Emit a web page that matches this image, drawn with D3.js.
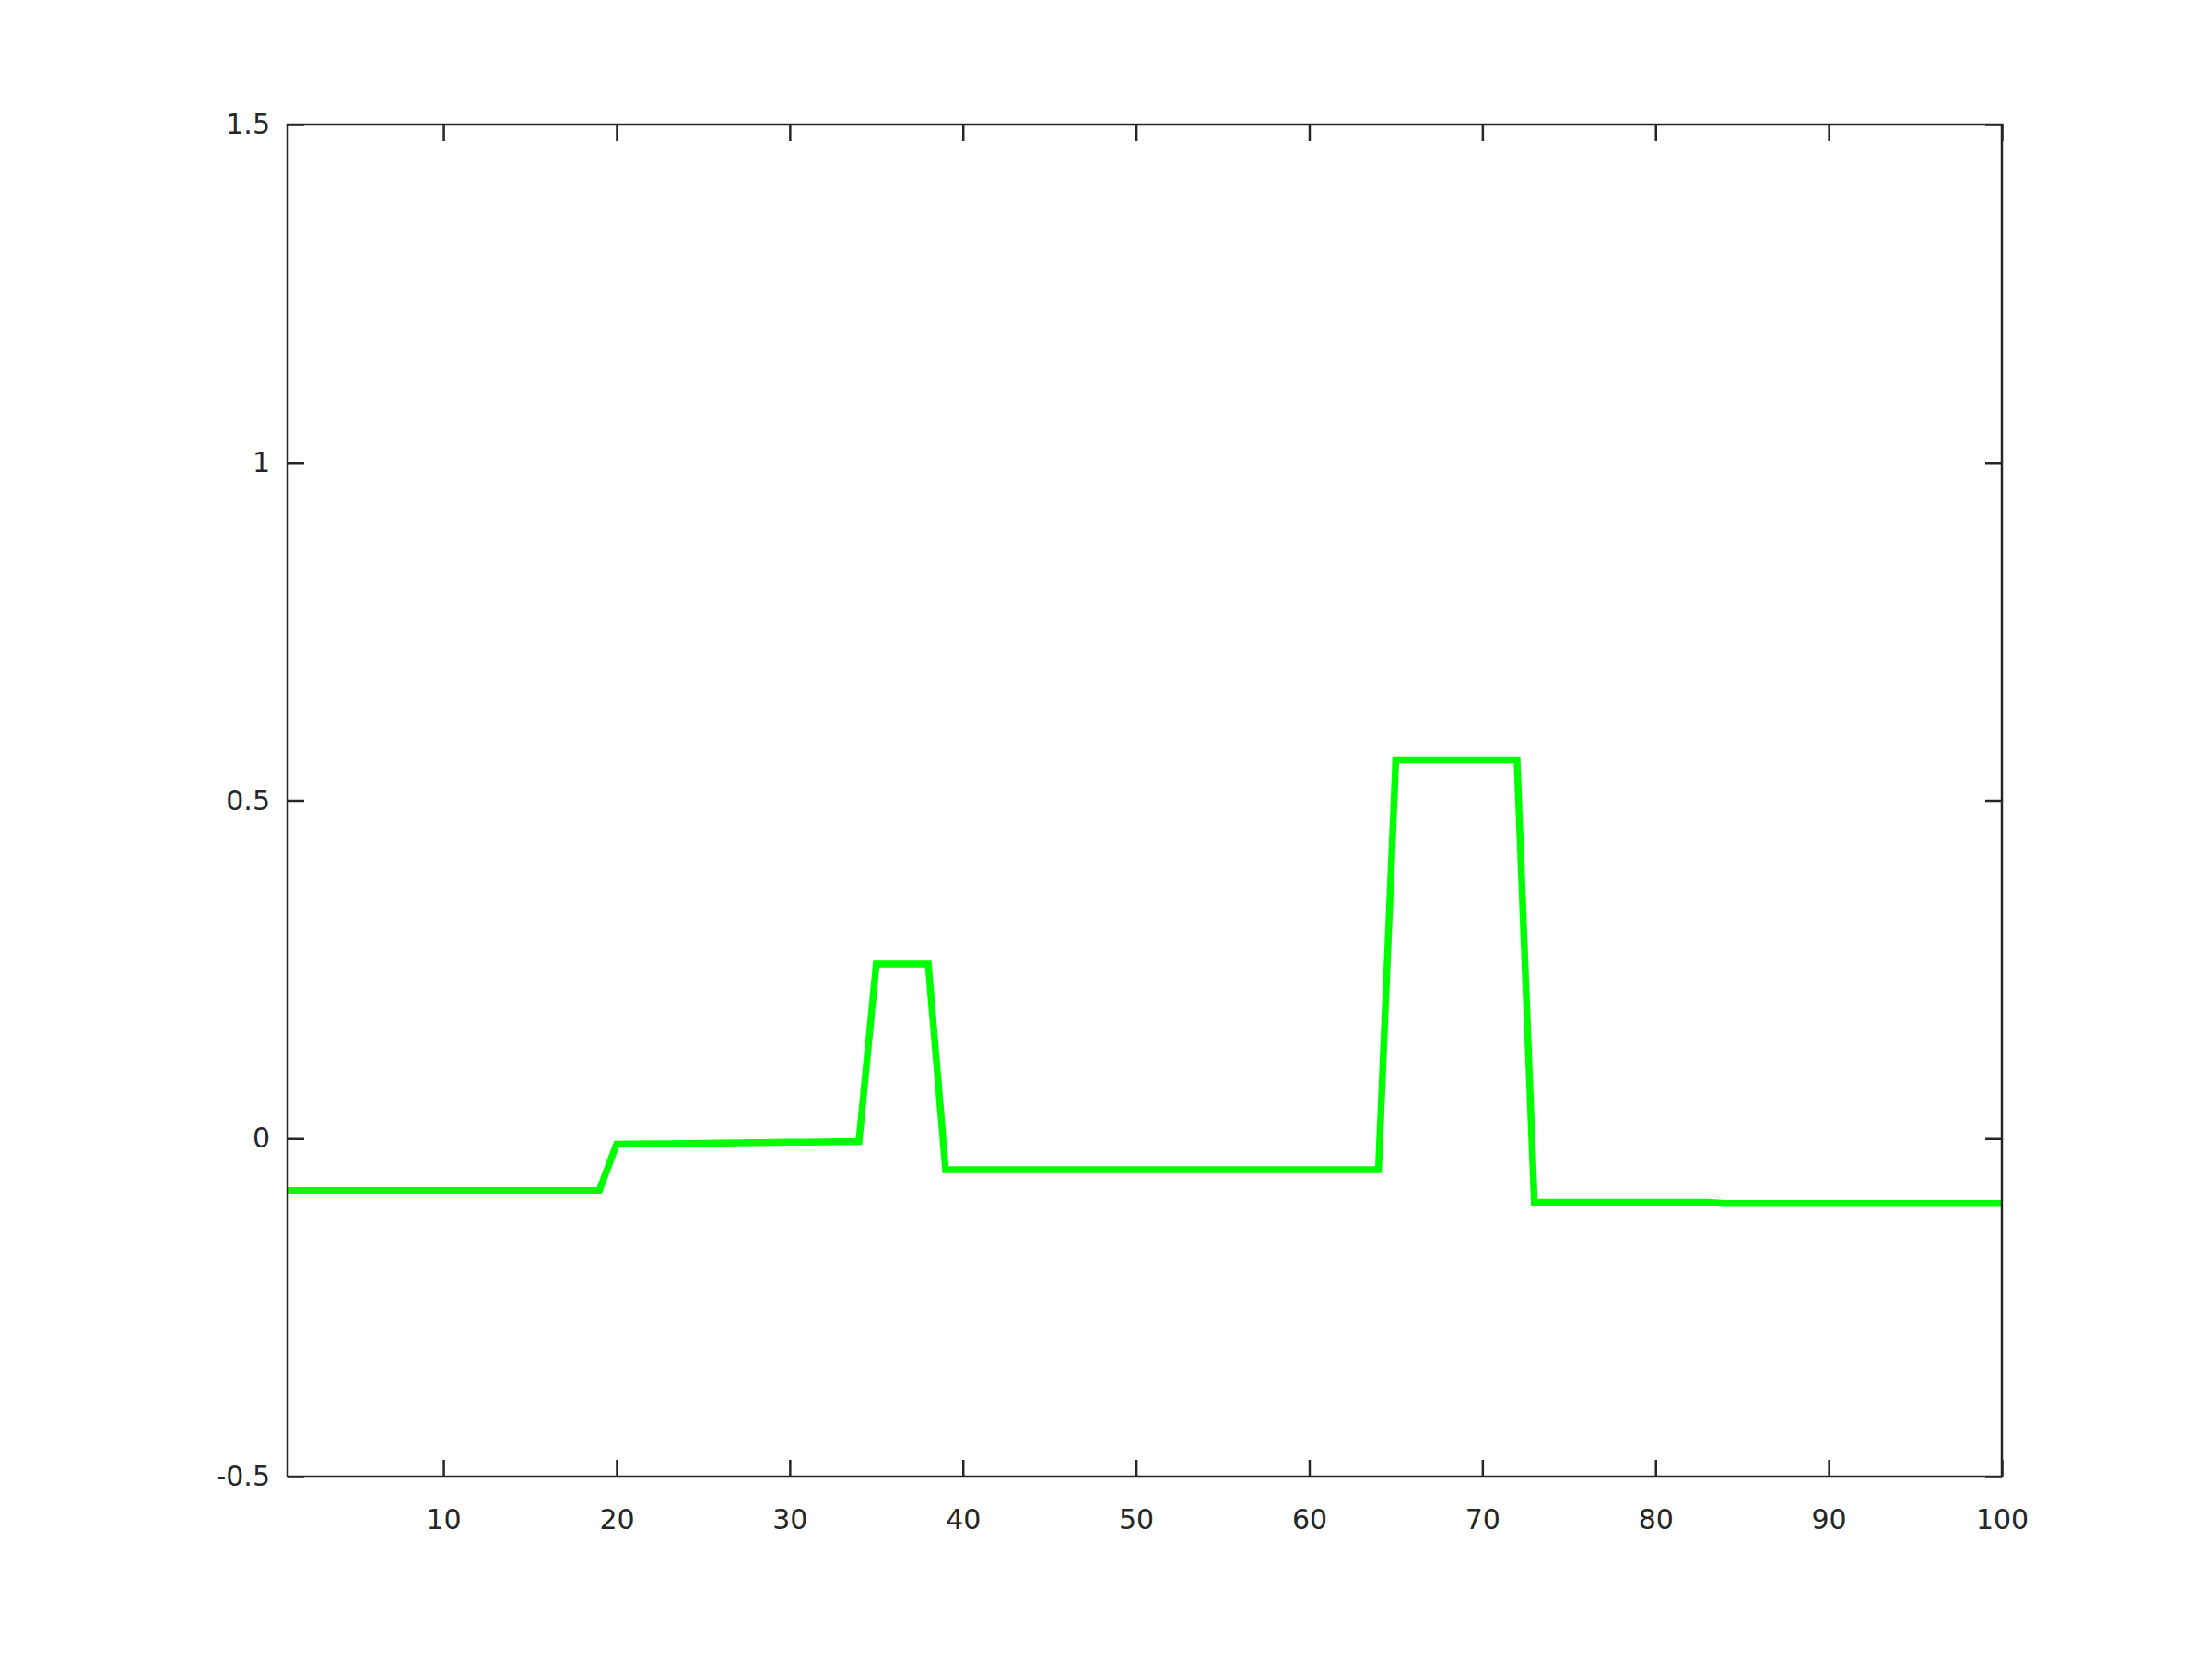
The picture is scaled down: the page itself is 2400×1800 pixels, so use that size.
<!DOCTYPE html>
<html>
<head>
<meta charset="utf-8">
<script src="https://cdn.jsdelivr.net/npm/d3@7"></script>
<style>
  body { margin: 0; background: #fff; }
  .tick text { font-family: "DejaVu Sans", sans-serif; fill: #262626; }
</style>
</head>
<body>
<div id="chart"></div>
<script>
// values, one per sample (x = 1..100)
var seg1 = [-0.077, -0.077, -0.077, -0.077, -0.077, -0.077, -0.077, -0.077, -0.077, -0.077,
            -0.077, -0.077, -0.077, -0.077, -0.077, -0.077, -0.077, -0.077, -0.077];
var seg2 = [-0.0086, -0.0083, -0.0080, -0.0077, -0.0074, -0.0071, -0.0068, -0.0065,
            -0.0062, -0.0059, -0.0056, -0.0053, -0.0050, -0.0047, -0.0045];
var seg3 = [0.258, 0.258, 0.258, 0.258];
var seg4 = [-0.046, -0.046, -0.046, -0.046, -0.046, -0.046, -0.046, -0.046, -0.046, -0.046,
            -0.046, -0.046, -0.046, -0.046, -0.046, -0.046, -0.046, -0.046, -0.046, -0.046,
            -0.046, -0.046, -0.046, -0.046, -0.046, -0.046];
var seg5 = [0.560, 0.560, 0.560, 0.560, 0.560, 0.560, 0.560, 0.560];
var seg6 = [-0.0945, -0.0945, -0.0945, -0.0945, -0.0945, -0.0945, -0.0945, -0.0945, -0.0945, -0.0945,
            -0.0945, -0.096, -0.096, -0.096, -0.096, -0.096, -0.096, -0.096, -0.096, -0.096,
            -0.096, -0.096, -0.096, -0.096, -0.096, -0.096, -0.096, -0.096];
var yValues = seg1.concat(seg2, seg3, seg4, seg5, seg6);

var xTicks = [10, 20, 30, 40, 50, 60, 70, 80, 90, 100];
var yTicks = [-0.5, 0, 0.5, 1, 1.5];
var yTickLabels = ["-0.5", "0", "0.5", "1", "1.5"];
var xDomain = [1, 100];
var yDomain = [-0.5, 1.5];

var margin = {top: 135, right: 228, bottom: 198, left: 312},
    W = 2400, H = 1800,
    width = W - margin.left - margin.right,
    height = H - margin.top - margin.bottom;

var data = yValues.map(function(v, i) { return {x: i + 1, y: v}; });

var x = d3.scaleLinear().domain(xDomain).range([0, width]);
var y = d3.scaleLinear().domain(yDomain).range([height, 0]);

var svg = d3.select("#chart").append("svg")
    .attr("width", W)
    .attr("height", H)
    .style("background", "#fff");

var g = svg.append("g")
    .attr("transform", "translate(" + margin.left + "," + margin.top + ")");

var line = d3.line()
    .x(function(d) { return x(d.x); })
    .y(function(d) { return y(d.y); });

g.append("path")
    .datum(data)
    .attr("d", line)
    .attr("fill", "none")
    .attr("stroke", "#00ff00")
    .attr("stroke-width", 7.5)
    .attr("stroke-linejoin", "miter");

var tickLen = 18;

function styleAxis(sel, showText) {
  sel.select(".domain").remove();
  sel.selectAll(".tick line").attr("stroke", "#262626").attr("stroke-width", 2.5);
  sel.selectAll(".tick text").style("font-size", "30px");
  if (!showText) sel.selectAll(".tick text").remove();
}

// bottom axis, ticks pointing inward
g.append("g")
    .attr("transform", "translate(0," + height + ")")
    .call(d3.axisBottom(x).tickValues(xTicks).tickSizeInner(-tickLen).tickSizeOuter(0)
      .tickPadding(36).tickFormat(d3.format("d")))
    .call(styleAxis, true);

// top axis
g.append("g")
    .call(d3.axisTop(x).tickValues(xTicks).tickSizeInner(-tickLen).tickSizeOuter(0))
    .call(styleAxis, false);

// left axis
g.append("g")
    .call(d3.axisLeft(y).tickValues(yTicks).tickSizeInner(-tickLen).tickSizeOuter(0)
      .tickPadding(19).tickFormat(function(d, i) { return yTickLabels[i]; }))
    .call(styleAxis, true);

// right axis
g.append("g")
    .attr("transform", "translate(" + width + ",0)")
    .call(d3.axisRight(y).tickValues(yTicks).tickSizeInner(-tickLen).tickSizeOuter(0))
    .call(styleAxis, false);

// box
g.append("rect")
    .attr("width", width)
    .attr("height", height)
    .attr("fill", "none")
    .attr("stroke", "#262626")
    .attr("stroke-width", 2.5);
</script>
</body>
</html>
